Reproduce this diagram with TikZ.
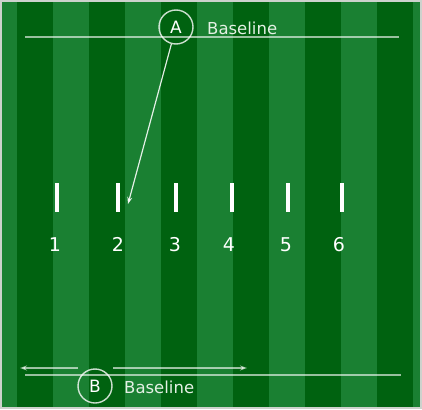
\documentclass[tikz,border=0pt]{standalone}
\usepackage{fontspec}
\setmainfont{DejaVu Sans}
\usetikzlibrary{arrows.meta}
\definecolor{fieldlight}{RGB}{26,128,50}
\definecolor{fielddark}{RGB}{0,98,16}
\definecolor{framecol}{RGB}{205,210,205}
\definecolor{chalk}{RGB}{228,240,228}
\begin{document}
\begin{tikzpicture}[x=1pt,y=-1pt,
  baseln/.style={draw=white, draw opacity=0.6, line width=2pt},
  marker/.style={circle, draw=white, draw opacity=0.8, line width=1.4pt, minimum size=34pt, inner sep=0pt, text=white, font=\fontsize{17}{17}\selectfont},
  lbl/.style={text=chalk, font=\fontsize{16.5}{17}\selectfont, anchor=base west, inner sep=0pt},
  post/.style={fill=white, draw=none, minimum width=4pt, minimum height=29pt, inner sep=0pt},
  num/.style={text=white, font=\fontsize{19}{19}\selectfont, inner sep=0pt, anchor=base},
  tipend/.style={-{Stealth[length=7pt,width=5pt]}}
]
\useasboundingbox (0,0) rectangle (422,409);
% field
\fill[framecol] (0,0) rectangle (422,409);
\fill[fieldlight] (2,2) rectangle (420,407);
\foreach \x in {17,89,161,233,305,377}
  \fill[fielddark] (\x,2) rectangle (\x+36,407);
% baselines
\draw[baseln] (25,37.5) -- (399,37.5);
\draw[baseln] (25,375) -- (401,375);
% markers and labels
\node[marker] (A) at (176,27) {A};
\node[lbl] (blA) at (207,35) {Baseline};
\node[marker] (B) at (95,386) {B};
\node[lbl] (blB) at (124,393) {Baseline};
% posts and numbers
\foreach \px/\nx/\n in {57/55/1,118/118/2,176/175/3,232/229/4,288/286/5,342/339/6}{
  \node[post] (post\n) at (\px,197.5) {};
  \node[num] (num\n) at (\nx,251.5) {\n};
}
% arrow A to post 2
\coordinate (tipA) at (128,204);
\draw[draw=white, draw opacity=0.85, fill=white, line width=1.2pt, tipend] (A) -- (tipA);
% double arrow at bottom
\coordinate (gapL) at (78,368);
\coordinate (endL) at (20,368);
\coordinate (gapR) at (113,368);
\coordinate (endR) at (247,368);
\draw[baseln, fill=white, fill opacity=0.6, tipend] (gapL) -- (endL);
\draw[baseln, fill=white, fill opacity=0.6, tipend] (gapR) -- (endR);
\end{tikzpicture}
\end{document}
